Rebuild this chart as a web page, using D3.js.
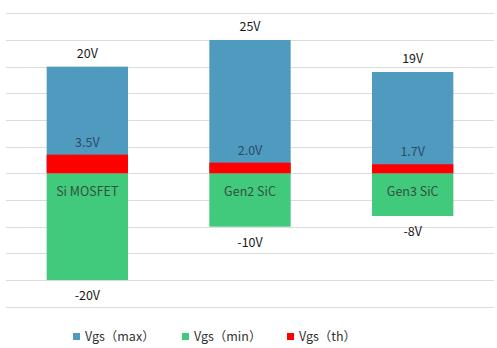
<!DOCTYPE html>
<html>
<head>
<meta charset="utf-8">
<script src="https://cdn.jsdelivr.net/npm/d3@7"></script>
<style>
body { margin: 0; background: #fff; }
text { font-family: "Noto Sans CJK SC", "Noto Sans", sans-serif; }
</style>
</head>
<body>
<svg class="chart-svg"></svg>
<script>
var categories = ['Si MOSFET', 'Gen2 SiC', 'Gen3 SiC'];
var vgs_max = [20, 25, 19];
var vgs_min = [-20, -10, -8];
var vgs_th = [3.5, 2.0, 1.7];
var max_labels = ['20V', '25V', '19V'];
var min_labels = ['-20V', '-10V', '-8V'];
var th_labels = ['3.5V', '2.0V', '1.7V'];
var y_ticks = [-25, -20, -15, -10, -5, 0, 5, 10, 15, 20, 25, 30];
var legend_names = ['Vgs（max）', 'Vgs（min）', 'Vgs（th）'];

var width = 497, height = 348;
var col_max = '#4f9bc0', col_min = '#41ca7b', col_th = '#ff0000';

var svg = d3.select('.chart-svg').attr('width', width).attr('height', height);

var x = d3.scaleBand().domain(categories).range([6, 494]).paddingInner(0.5).paddingOuter(0.25);
var y = d3.scaleLinear().domain([-25, 30]).range([306.7, 13.3]);

// gridlines
svg.append('g')
	.selectAll('line')
	.data(y_ticks)
	.enter()
	.append('line')
	.attr('x1', 6)
	.attr('x2', 494)
	.attr('y1', function(d) { return Math.round(y(d)) + 0.5; })
	.attr('y2', function(d) { return Math.round(y(d)) + 0.5; })
	.attr('stroke', '#dcdcdc')
	.attr('stroke-width', 1);

var bars = svg.append('g');
bars.selectAll('.bar-max')
	.data(categories)
	.enter()
	.append('rect')
	.attr('x', function(d) { return x(d); })
	.attr('width', x.bandwidth())
	.attr('y', function(d, i) { return y(vgs_max[i]); })
	.attr('height', function(d, i) { return y(0) - y(vgs_max[i]); })
	.attr('fill', col_max);

bars.selectAll('.bar-min')
	.data(categories)
	.enter()
	.append('rect')
	.attr('x', function(d) { return x(d); })
	.attr('width', x.bandwidth())
	.attr('y', y(0))
	.attr('height', function(d, i) { return y(vgs_min[i]) - y(0); })
	.attr('fill', col_min);

bars.selectAll('.bar-th')
	.data(categories)
	.enter()
	.append('rect')
	.attr('x', function(d) { return x(d); })
	.attr('width', x.bandwidth())
	.attr('y', function(d, i) { return y(vgs_th[i]); })
	.attr('height', function(d, i) { return y(0) - y(vgs_th[i]); })
	.attr('fill', col_th);

function center(d) { return x(d) + x.bandwidth() / 2; }

var labels = svg.append('g').attr('text-anchor', 'middle').attr('font-size', 12.5);
labels.selectAll('.lbl-max')
	.data(categories)
	.enter()
	.append('text')
	.attr('x', center)
	.attr('y', function(d, i) { return y(vgs_max[i]) - 9; })
	.attr('fill', '#1a1a1a')
	.text(function(d, i) { return max_labels[i]; });

labels.selectAll('.lbl-th')
	.data(categories)
	.enter()
	.append('text')
	.attr('x', center)
	.attr('y', function(d, i) { return y(vgs_th[i]) - 8; })
	.attr('fill', '#2d4a66')
	.text(function(d, i) { return th_labels[i]; });

labels.selectAll('.lbl-cat')
	.data(categories)
	.enter()
	.append('text')
	.attr('x', center)
	.attr('y', y(0) + 23)
	.attr('fill', '#35503f')
	.text(function(d) { return d; });

labels.selectAll('.lbl-min')
	.data(categories)
	.enter()
	.append('text')
	.attr('x', center)
	.attr('y', function(d, i) { return y(vgs_min[i]) + 20; })
	.attr('fill', '#1a1a1a')
	.text(function(d, i) { return min_labels[i]; });

// legend
var legend_x = [73, 182, 287];
var legend_cols = [col_max, col_min, col_th];
var legend = svg.append('g');
var items = legend.selectAll('g')
	.data(legend_names)
	.enter()
	.append('g')
	.attr('transform', function(d, i) { return 'translate(' + legend_x[i] + ',333)'; });
items.append('rect')
	.attr('width', 7)
	.attr('height', 7)
	.attr('fill', function(d, i) { return legend_cols[i]; });
items.append('text')
	.attr('x', 12)
	.attr('y', 8)
	.attr('font-size', 12.5)
	.attr('fill', '#333')
	.text(function(d) { return d; });
</script>
</body>
</html>
